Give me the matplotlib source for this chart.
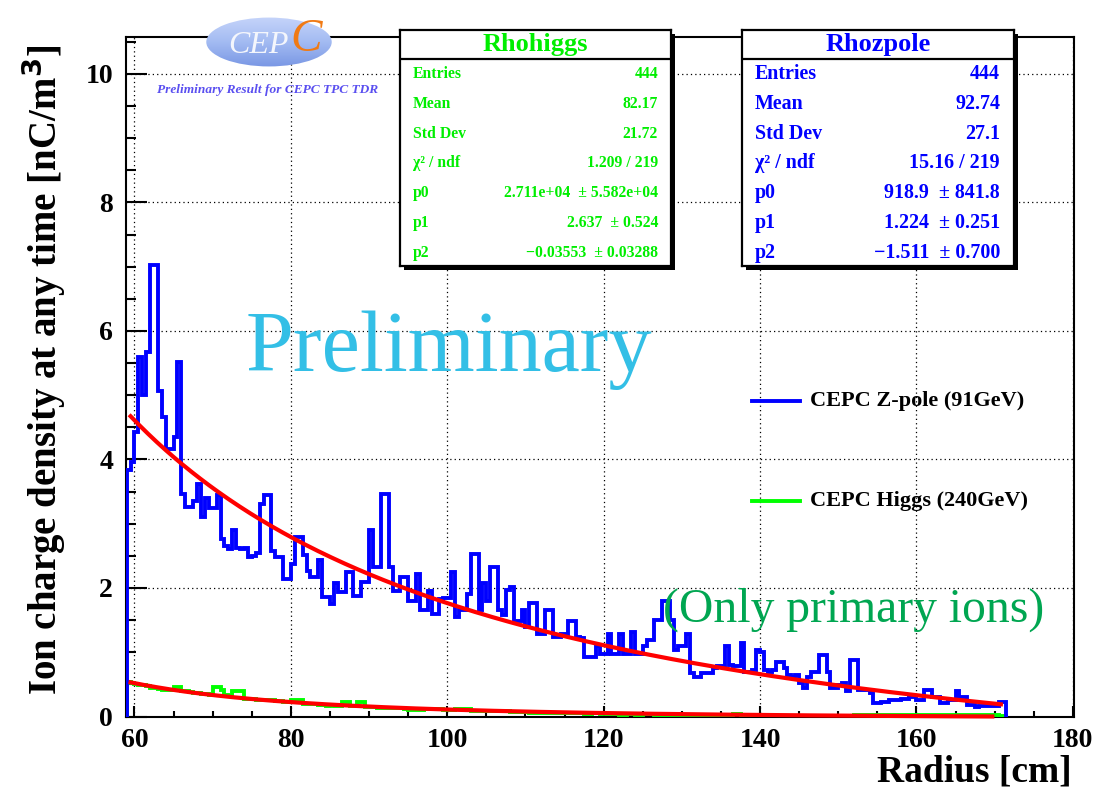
import numpy as np
import matplotlib
matplotlib.use("Agg")
import matplotlib.pyplot as plt
from matplotlib.patches import Ellipse
from matplotlib.colors import LinearSegmentedColormap
from matplotlib.ticker import MultipleLocator

# ---------------------------------------------------------------- data
# Radial bins (cm): 0.5 cm wide, starting at 59 cm
bin_start = 59.0
bin_width = 0.5

# Ion charge density per bin [nC/m^3], CEPC Z-pole (91 GeV)
zpole_density = [
    3.83, 3.96, 4.43, 5.59, 5.00, 5.67, 7.03, 7.03, 5.07, 4.66,
    4.16, 4.16, 4.35, 5.51, 3.46, 3.26, 3.26, 3.36, 3.62, 3.10,
    3.40, 3.24, 3.24, 3.44, 2.77, 2.65, 2.61, 2.90, 2.62, 2.60,
    2.62, 2.48, 2.50, 2.55, 3.30, 3.44, 3.44, 2.58, 2.48, 2.48,
    2.14, 2.14, 2.37, 2.79,
    2.79, 2.51, 2.27, 2.17, 2.17, 2.43, 1.86, 1.86, 1.75, 2.07,
    1.94, 1.94, 2.25, 2.25, 1.88, 1.88, 2.09, 2.09, 2.90, 2.32,
    2.32, 3.47, 3.47, 2.32, 1.96, 1.96, 2.17, 2.17, 1.80, 1.80,
    2.22, 1.65, 1.65, 1.96, 1.60, 1.60, 1.83, 1.85, 1.85, 2.25,
    1.55, 1.65, 1.65, 1.90, 2.53, 2.53, 1.65, 2.07,
    1.79, 2.33, 2.33, 1.66, 1.58, 1.97, 2.02, 1.48, 1.48, 1.66,
    1.40, 1.76, 1.76, 1.29, 1.29, 1.66, 1.66, 1.24, 1.24, 1.29,
    1.29, 1.48, 1.48, 1.24, 1.22, 0.93, 0.93, 0.93, 1.09, 0.98,
    0.98, 1.29, 0.98, 0.98, 1.29, 0.98, 0.98, 1.32, 0.98, 0.98,
    1.09, 1.19, 1.19, 1.50, 1.50, 1.79, 1.79, 1.50, 1.04, 1.09,
    1.09, 1.29, 0.67, 0.62, 0.62, 0.67, 0.67, 0.67, 0.75, 0.78,
    0.78, 1.09, 0.80, 0.78, 0.78, 1.14,
    0.70, 0.70, 0.72, 1.03, 1.01, 0.72, 0.70, 0.72, 0.85, 0.85,
    0.75, 0.65, 0.62, 0.65, 0.52, 0.44, 0.62, 0.70, 0.70, 0.96,
    0.96, 0.70, 0.44, 0.44, 0.49, 0.52, 0.39, 0.88, 0.88, 0.41,
    0.41, 0.41, 0.36, 0.21, 0.21, 0.23, 0.23, 0.26, 0.26, 0.26,
    0.28, 0.28, 0.31, 0.31, 0.26, 0.26, 0.41, 0.41, 0.31, 0.31,
    0.21, 0.21, 0.26, 0.26, 0.39, 0.31, 0.31, 0.18, 0.18, 0.15,
    0.16, 0.16, 0.16, 0.16, 0.16, 0.22, 0.22,
]

# Ion charge density per bin [nC/m^3], CEPC Higgs (240 GeV)
higgs_density = [
    0.53, 0.52, 0.50, 0.49, 0.49, 0.47, 0.45, 0.44, 0.43, 0.42,
    0.41, 0.41, 0.46, 0.46, 0.39, 0.39, 0.38, 0.37, 0.36, 0.35,
    0.35, 0.34, 0.46, 0.46, 0.41, 0.33, 0.32, 0.39, 0.39, 0.39,
    0.28, 0.28, 0.27, 0.26, 0.26, 0.25, 0.25, 0.25, 0.24, 0.24,
    0.23, 0.23,
    0.26, 0.26, 0.25, 0.20, 0.20, 0.19, 0.19, 0.18, 0.18, 0.17,
    0.18, 0.17, 0.17, 0.22, 0.22, 0.17, 0.16, 0.22, 0.22, 0.15,
    0.15, 0.15, 0.14, 0.14, 0.14, 0.14, 0.13, 0.13, 0.13, 0.11,
    0.10, 0.10, 0.10, 0.10, 0.11, 0.12, 0.11, 0.11, 0.11, 0.10,
    0.10, 0.10, 0.12, 0.12, 0.11, 0.11, 0.09, 0.09, 0.09, 0.08,
    0.08, 0.08, 0.09, 0.09, 0.09, 0.08, 0.07, 0.07, 0.07, 0.07,
    0.07, 0.06, 0.06, 0.06, 0.06, 0.06, 0.05, 0.05, 0.05, 0.05,
    0.06, 0.06, 0.06, 0.05, 0.05, 0.04, 0.04, 0.05, 0.05, 0.04,
    0.04, 0.04, 0.04, 0.04, 0.03, 0.03, 0.04, 0.04, 0.03, 0.03,
    0.04, 0.04, 0.04, 0.03, 0.03, 0.03, 0.03, 0.03, 0.03, 0.03,
    0.03, 0.03, 0.02, 0.02, 0.02, 0.03, 0.03, 0.02, 0.02, 0.02,
    0.02, 0.02, 0.03, 0.04, 0.04, 0.02, 0.02, 0.02, 0.02, 0.02,
    0.02, 0.02, 0.02, 0.01, 0.01, 0.01, 0.01, 0.01, 0.01, 0.01,
    0.01, 0.01, 0.01, 0.01, 0.01, 0.01, 0.01, 0.01, 0.01, 0.01,
    0.01, 0.01, 0.01, 0.01, 0.02, 0.02, 0.02, 0.02, 0.02, 0.02,
    0.02, 0.02, 0.02, 0.02, 0.02, 0.02, 0.02, 0.02, 0.02, 0.02,
    0.02, 0.02, 0.02, 0.02, 0.02, 0.02, 0.02, 0.02, 0.02, 0.02,
    0.02, 0.02, 0.02, 0.02, 0.02, 0.02, 0.02, 0.02, 0.02, 0.02,
    0.02, 0.01, 0.01,
]

# Fit model p0 * r^(-p1) + p2 and its fitted parameters
zpole_params = (918.9, 1.224, -1.511)
higgs_params = (2.711e4, 2.637, -0.03553)
zpole_fit_range = (59.5, 170.8)
higgs_fit_range = (59.5, 169.7)

# Statistics boxes: (label, value)
higgs_stats = [
    ("Entries", "444"),
    ("Mean", "82.17"),
    ("Std Dev", "21.72"),
    ("\u03c7\u00b2 / ndf", "1.209 / 219"),
    ("p0", "2.711e+04  \u00b1 5.582e+04"),
    ("p1", "2.637  \u00b1 0.524"),
    ("p2", "\u22120.03553  \u00b1 0.03288"),
]
zpole_stats = [
    ("Entries", "444"),
    ("Mean", "92.74"),
    ("Std Dev", "27.1"),
    ("\u03c7\u00b2 / ndf", "15.16 / 219"),
    ("p0", "918.9  \u00b1 841.8"),
    ("p1", "1.224  \u00b1 0.251"),
    ("p2", "\u22121.511  \u00b1 0.700"),
]

legend_labels = ["CEPC Z-pole (91GeV)", "CEPC Higgs (240GeV)"]

# ---------------------------------------------------------------- style
plt.rcParams["font.family"] = ["Liberation Serif", "DejaVu Serif"]
plt.rcParams["font.weight"] = "bold"

W, H = 1097, 790
fig = plt.figure(figsize=(W / 100, H / 100), dpi=100)
fig.patch.set_facecolor("white")


def fx(px):
    return px / W


def fy(py):
    return 1 - py / H


BLUE = "#0000ff"
GREEN = "#00ff00"
RED = "#ff0000"

# ---------------------------------------------------------------- main axes
ax_left, ax_right, ax_top, ax_bottom = 125.5, 1074.0, 36.7, 716.5
ax = fig.add_axes([fx(ax_left), fy(ax_bottom),
                   (ax_right - ax_left) / W, (ax_bottom - ax_top) / H])
ax.set_xlim(58.85, 180.15)
ax.set_ylim(0, 10.58)

for s in ax.spines.values():
    s.set_linewidth(1.5)
    s.set_color("black")

ax.xaxis.set_major_locator(MultipleLocator(20))
ax.xaxis.set_minor_locator(MultipleLocator(5))
ax.yaxis.set_major_locator(MultipleLocator(2))
ax.yaxis.set_minor_locator(MultipleLocator(0.5))
ax.tick_params(axis="y", which="major", direction="in", length=15, width=1.5,
               labelsize=20, pad=9)
ax.tick_params(axis="y", which="minor", direction="in", length=7.5, width=1.5)
ax.tick_params(axis="x", which="major", direction="in", length=8, width=1.5,
               labelsize=20, pad=8)
ax.tick_params(axis="x", which="minor", direction="in", length=4, width=1.5)
ax.grid(True, which="major", color="black", linestyle=(0, (1, 2.5)),
        linewidth=0.9)
ax.set_axisbelow(True)

edges = bin_start + bin_width * np.arange(len(zpole_density) + 1)
ax.stairs(higgs_density, edges, color=GREEN, linewidth=2.8, baseline=0,
          zorder=3)
ax.stairs(zpole_density, edges, color=BLUE, linewidth=2.8, baseline=0,
          zorder=4)


def power_fit(r, p):
    return p[0] * np.power(r, -p[1]) + p[2]


r1 = np.linspace(*zpole_fit_range, 400)
ax.plot(r1, power_fit(r1, zpole_params), color=RED, linewidth=3.0, zorder=5)
r2 = np.linspace(*higgs_fit_range, 400)
ax.plot(r2, power_fit(r2, higgs_params), color=RED, linewidth=3.0, zorder=5,
        clip_on=False)

fig.text(fx(44), fy(370), "Ion charge density at any time [nC/m$^{\\mathbf{3}}$]",
         rotation=90, ha="center", va="center", fontsize=28,
         fontweight="bold")
fig.text(fx(1072), fy(772), "Radius [cm]", ha="right", va="center",
         fontsize=27, fontweight="bold")

# overlay texts
fig.text(fx(449), fy(350), "Preliminary", ha="center", va="center",
         fontsize=62, fontweight="normal", color="#33bfe6")
fig.text(fx(854), fy(610), "(Only primary ions)", ha="center", va="center",
         fontsize=34.3, fontweight="normal", color="#00a651")

# legend
for i, (lab, col) in enumerate(zip(legend_labels, [BLUE, GREEN])):
    y = 401 + 100 * i
    fig.add_artist(plt.Line2D([fx(752), fx(800)], [fy(y), fy(y)],
                              color=col, linewidth=2.8))
    fig.text(fx(810), fy(y), lab, ha="left", va="center", fontsize=16,
             fontweight="bold", color="black")


# ---------------------------------------------------------------- stat boxes
def stat_box(x0, x1, y0, y1, title, rows, color, fsize, tsize, xl, xr):
    shadow = 4
    bax = fig.add_axes([fx(x0 + shadow), fy(y1 + shadow),
                        (x1 - x0) / W, (y1 - y0) / H])
    bax.set_facecolor("black")
    bax.set_xticks([])
    bax.set_yticks([])
    for s in bax.spines.values():
        s.set_visible(False)
    box = fig.add_axes([fx(x0), fy(y1), (x1 - x0) / W, (y1 - y0) / H])
    box.set_xticks([])
    box.set_yticks([])
    box.set_facecolor("white")
    for s in box.spines.values():
        s.set_linewidth(1.6)
        s.set_color("black")
    box.set_xlim(x0, x1)
    box.set_ylim(y1, y0)
    box.axhline(59, color="black", linewidth=1.6)
    box.text((x0 + x1) / 2, 44, title, ha="center", va="center",
             fontsize=tsize, fontweight="bold", color=color)
    for k, (lab, val) in enumerate(rows):
        yy = 74 + 29.8 * k
        box.text(xl, yy, lab, ha="left", va="center", fontsize=fsize,
                 fontweight="bold", color=color)
        box.text(xr, yy, val, ha="right", va="center", fontsize=fsize,
                 fontweight="bold", color=color)


stat_box(400, 671, 30, 266, "Rhohiggs", higgs_stats, "#00ee00", 11.3, 19,
         413, 658)
stat_box(742, 1014, 30, 266, "Rhozpole", zpole_stats, BLUE, 14.4, 19,
         755, 1000)

# ---------------------------------------------------------------- logo
lax = fig.add_axes([fx(205), fy(68), 128 / W, 52 / H])
lax.set_xlim(0, 1)
lax.set_ylim(0, 1)
lax.axis("off")
ell = Ellipse((0.5, 0.5), 0.98, 0.94, transform=lax.transAxes,
              facecolor="none", edgecolor="none")
lax.add_patch(ell)
cmap = LinearSegmentedColormap.from_list(
    "logo", ["#7896e4", "#a3bbf2", "#c6d5fa"])
grad = np.linspace(0, 1, 64).reshape(-1, 1)
im = lax.imshow(grad, extent=[0, 1, 0, 1], origin="lower", cmap=cmap,
                aspect="auto", zorder=1)
im.set_clip_path(ell)
lax.text(0.42, 0.44, "CEP", ha="center", va="center", fontsize=23,
         fontstyle="italic", fontweight="normal", color="#f4f6fc", zorder=3)
lax.text(0.79, 0.54, "C", ha="center", va="center", fontsize=34,
         fontstyle="italic", fontweight="normal", color="#f07a14", zorder=3)
fig.text(fx(268), fy(90), "Preliminary Result for CEPC TPC TDR",
         ha="center", va="center", fontsize=9.6, fontstyle="italic",
         fontweight="bold", color="#5a4ff0")

fig.savefig("out.png", dpi=100, facecolor="white")
